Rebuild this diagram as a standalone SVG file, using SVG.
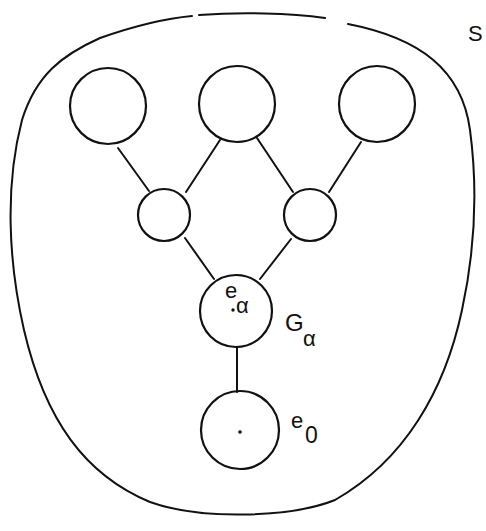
<svg xmlns="http://www.w3.org/2000/svg" width="486" height="531" viewBox="0 0 486 531">
  <style>
    .line { fill: none; stroke: #111; stroke-width: 2; stroke-linecap: round; }
    .node { fill: none; stroke: #111; stroke-width: 2.2; }
    .lbl { font-family: "Liberation Sans", "DejaVu Sans", sans-serif; fill: #111; }
  </style>
  <rect width="486" height="531" fill="#fff"/>

  <!-- enclosing region S -->
  <g id="region-S">
    <path class="line" stroke-width="2.4" d="M 348 24 C 420 38, 462 70, 470 130 C 478 190, 475 250, 462 310 C 445 390, 405 460, 335 500 C 290 518, 200 520, 150 502 C 85 475, 45 420, 24 330 C 8 260, 5 185, 22 120 C 36 75, 62 55, 100 38 C 140 24, 170 18, 192 16"/>
    <path class="line" stroke-width="1.6" d="M 199 15 C 240 12, 290 13, 325 18"/>
    <text class="lbl" x="468" y="41" font-size="22">S</text>
  </g>

  <!-- connectors -->
  <g id="connectors">
    <line class="line" x1="118" y1="148" x2="149" y2="191"/>
    <line class="line" x1="220" y1="140" x2="186" y2="192"/>
    <line class="line" x1="257" y1="138" x2="293" y2="192"/>
    <line class="line" x1="361" y1="142" x2="329" y2="192"/>
    <line class="line" x1="185" y1="238" x2="214" y2="279"/>
    <line class="line" x1="291" y1="239" x2="260" y2="279"/>
    <line class="line" x1="237" y1="347" x2="237" y2="392"/>
  </g>

  <!-- top row -->
  <g id="node-top-left"><circle class="node" cx="108" cy="106" r="38"/></g>
  <g id="node-top-mid"><circle class="node" cx="237" cy="104" r="38"/></g>
  <g id="node-top-right"><circle class="node" cx="377" cy="104" r="38" stroke-width="1.6"/></g>

  <!-- middle row -->
  <g id="node-mid-left"><circle class="node" cx="164" cy="215" r="26"/></g>
  <g id="node-mid-right"><circle class="node" cx="310" cy="215" r="26"/></g>

  <!-- G_alpha with element e_alpha -->
  <g id="node-G-alpha">
    <circle class="node" cx="236" cy="311" r="36"/>
    <circle cx="233" cy="310" r="1.7" fill="#111"/>
    <text class="lbl" x="225" y="298" font-size="22">e</text>
    <text class="lbl" x="236" y="313" font-size="22">α</text>
    <text class="lbl" x="285" y="331" font-size="24">G</text>
    <text class="lbl" x="303" y="346" font-size="22">α</text>
  </g>

  <!-- e_0 node -->
  <g id="node-e0">
    <circle class="node" cx="240" cy="430" r="39"/>
    <circle cx="240" cy="432" r="1.8" fill="#111"/>
    <text class="lbl" x="291" y="428" font-size="22">e</text>
    <text class="lbl" x="305" y="443" font-size="23">0</text>
  </g>
</svg>
